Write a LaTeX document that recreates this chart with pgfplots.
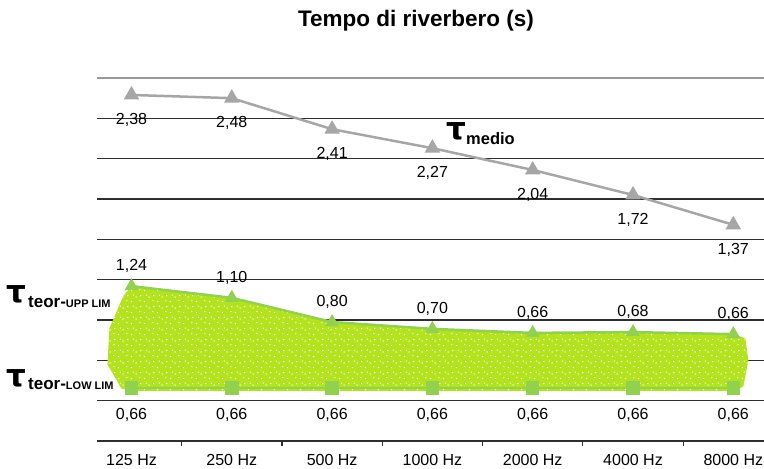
\documentclass[border=0pt]{standalone}
\usepackage{pgfplots}
\pgfplotsset{compat=1.18}
\usepackage{fontspec}
\setmainfont{Liberation Sans}
\newfontfamily\taufont{DejaVu Sans}
\usetikzlibrary{patterns}

\definecolor{medgray}{HTML}{A6A6A6}
\definecolor{gridline}{HTML}{2E2E2E}
\definecolor{topline}{HTML}{9A9A9A}
\definecolor{limgreen}{HTML}{92D050}
\definecolor{areagreen}{HTML}{B3E21F}

% sparse white speckles over the band
\pgfdeclarepatternformonly{speckle}{\pgfpointorigin}{\pgfpoint{13pt}{11pt}}{\pgfpoint{13pt}{11pt}}{
  \pgfpathrectangle{\pgfpoint{1pt}{2pt}}{\pgfpoint{1.2pt}{1.2pt}}
  \pgfpathrectangle{\pgfpoint{6pt}{7pt}}{\pgfpoint{1.2pt}{1.2pt}}
  \pgfpathrectangle{\pgfpoint{10pt}{3pt}}{\pgfpoint{1.2pt}{1.2pt}}
  \pgfpathrectangle{\pgfpoint{3pt}{9pt}}{\pgfpoint{1.2pt}{1.2pt}}
  \pgfpathrectangle{\pgfpoint{11pt}{8.5pt}}{\pgfpoint{1.2pt}{1.2pt}}
  \pgfusepath{fill}
}

\begin{document}
\begin{tikzpicture}
\useasboundingbox (0,0) rectangle (764pt,469pt);

\node[anchor=base, font=\fontsize{22.5}{25}\selectfont\bfseries] at (416pt,442pt) {Tempo di riverbero (s)};

\begin{axis}[
    at={(97pt,28pt)}, anchor=south west,
    scale only axis, width=667pt, height=363pt,
    xmin=-0.344, xmax=6.306, ymin=0, ymax=9,
    axis line style={draw=none},
    clip=false,
    ytick={0,...,8}, yticklabels={},
    ymajorgrids, grid style={gridline, line width=1.3pt},
    extra y ticks={9}, extra y tick labels={},
    extra y tick style={grid style={topline, line width=1.3pt}},
    major tick length=0pt,
    xtick={0,...,6},
    xticklabels={125 Hz,250 Hz,500 Hz,1000 Hz,2000 Hz,4000 Hz,8000 Hz},
    x tick label style={font=\fontsize{16}{18}\selectfont, yshift=-10pt},
    extra x ticks={0.5,1.5,...,5.5}, extra x tick labels={},
    extra x tick style={major tick length=5pt, tick align=outside, xtick pos=bottom,
        tick style={gridline, line width=1.2pt}},
    xtick pos=bottom, ytick pos=left,
    point meta=explicit symbolic,
    every node near coord/.append style={text=black, font=\fontsize{16}{18}\selectfont, anchor=center},
]

% theoretical band
\addplot[draw=none, fill=areagreen, postaction={pattern=speckle, pattern color=white}] coordinates {
    (0,3.84) (1,3.55) (2,2.95) (3,2.78) (4,2.68) (5,2.70) (6,2.65)
    (6.12,2.55) (6.15,2.0) (6.1,1.35) (6,1.24) (0,1.24)
    (-0.1,1.3) (-0.24,1.9) (-0.22,2.8) (-0.08,3.6)
} -- cycle;

% upper limit
\addplot[limgreen, line width=2.5pt, mark=triangle*, mark size=5.5pt,
    nodes near coords, every node near coord/.append style={yshift=20pt}] coordinates {
    (0,3.84)[1,24] (1,3.55)[1,10] (2,2.95)[0,80] (3,2.78)[0,70]
    (4,2.68)[0,66] (5,2.70)[0,68] (6,2.65)[0,66]
};

% lower limit
\addplot[limgreen, line width=2.5pt, mark=square*, mark size=5.5pt,
    nodes near coords, every node near coord/.append style={yshift=-27pt}] coordinates {
    (0,1.31)[0,66] (1,1.31)[0,66] (2,1.31)[0,66] (3,1.31)[0,66]
    (4,1.31)[0,66] (5,1.31)[0,66] (6,1.31)[0,66]
};

% measured mean
\addplot[medgray, line width=2.5pt, mark=triangle*, mark size=6.5pt,
    nodes near coords, every node near coord/.append style={yshift=-25pt}] coordinates {
    (0,8.58)[2,38] (1,8.50)[2,48] (2,7.73)[2,41] (3,7.26)[2,27]
    (4,6.72)[2,04] (5,6.10)[1,72] (6,5.36)[1,37]
};
\end{axis}

\node[anchor=base west, inner sep=0pt, font=\fontsize{31}{31}\selectfont\taufont\bfseries] at (446pt,329pt) {τ};
\node[anchor=base west, inner sep=0pt, font=\fontsize{16.5}{18}\selectfont\bfseries] at (466pt,324pt) {medio};

\node[anchor=base west, inner sep=0pt, font=\fontsize{31}{31}\selectfont\taufont\bfseries] at (6pt,166pt) {τ};
\node[anchor=base west, inner sep=0pt, font=\bfseries] at (28pt,161pt)
    {\fontsize{17}{18}\selectfont teor-\fontsize{11}{12}\selectfont UPP LIM};

\node[anchor=base west, inner sep=0pt, font=\fontsize{31}{31}\selectfont\taufont\bfseries] at (6pt,82pt) {τ};
\node[anchor=base west, inner sep=0pt, font=\bfseries] at (28pt,79pt)
    {\fontsize{17}{18}\selectfont teor-\fontsize{11}{12}\selectfont LOW LIM};
\end{tikzpicture}
\end{document}
